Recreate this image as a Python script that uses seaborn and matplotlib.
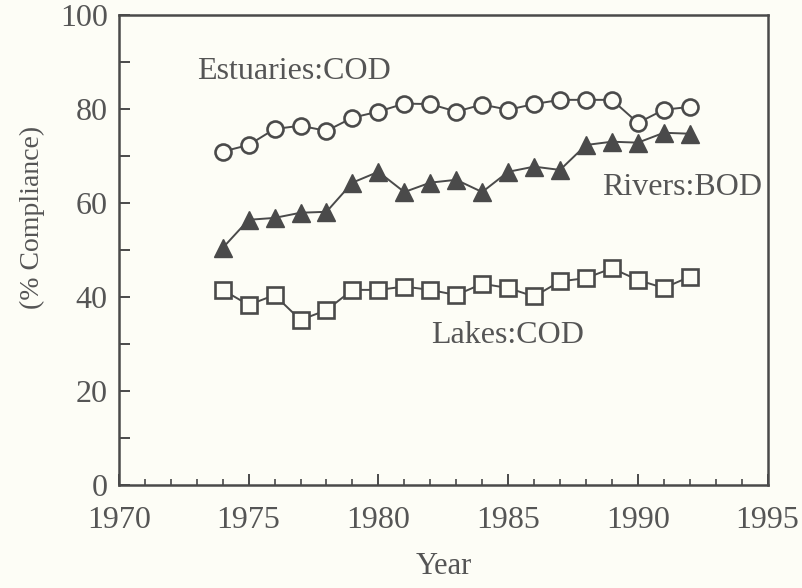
import numpy as np
import pandas as pd
import matplotlib
matplotlib.use("Agg")
import matplotlib.pyplot as plt
from matplotlib.ticker import MultipleLocator
import seaborn as sns

# data
years = list(range(1974, 1993))
estuaries_cod = [70.9, 72.3, 75.7, 76.4, 75.3, 78.1, 79.4, 81.1, 81.0, 79.4,
                 80.9, 79.8, 81.0, 81.9, 81.9, 81.9, 77.0, 79.8, 80.4]
rivers_bod = [50.4, 56.4, 56.8, 57.9, 58.1, 64.3, 66.6, 62.3, 64.3, 64.9,
              62.3, 66.6, 67.7, 67.0, 72.3, 73.0, 72.8, 74.9, 74.7]
lakes_cod = [41.5, 38.3, 40.4, 35.1, 37.2, 41.5, 41.5, 42.2, 41.5, 40.4,
             42.8, 41.9, 40.1, 43.3, 44.0, 46.1, 43.6, 41.9, 44.3]

series_labels = ["Estuaries:COD", "Rivers:BOD", "Lakes:COD"]
label_pos = [(1973.0, 87.9), (1988.6, 63.2), (1982.05, 31.9)]

ink = "#4a4a4a"
txt = "#555555"
bg = "#fdfdf6"

sns.set_theme(style="ticks")
plt.rcParams["font.family"] = ["Liberation Serif", "DejaVu Serif"]

fig = plt.figure(figsize=(8.03, 5.88), dpi=100, facecolor=bg)
ax = fig.add_axes([0.148, 0.175, 0.808, 0.80])
ax.set_facecolor(bg)

sns.lineplot(x=years, y=lakes_cod, ax=ax, color=ink, lw=1.4, marker="s",
             markersize=12, markerfacecolor=bg, markeredgecolor=ink,
             markeredgewidth=1.9)
sns.lineplot(x=years, y=rivers_bod, ax=ax, color=ink, lw=1.4, marker="^",
             markersize=13, markerfacecolor=ink, markeredgecolor=ink,
             markeredgewidth=1.0)
sns.lineplot(x=years, y=estuaries_cod, ax=ax, color=ink, lw=1.4, marker="o",
             markersize=11.5, markerfacecolor=bg, markeredgecolor=ink,
             markeredgewidth=1.9)

for name, (lx, ly) in zip(series_labels, label_pos):
    ax.text(lx, ly, name, fontsize=23, color=txt, va="center", ha="left")

ax.set_xlim(1970, 1995)
ax.set_ylim(0, 100)
ax.xaxis.set_major_locator(MultipleLocator(5))
ax.xaxis.set_minor_locator(MultipleLocator(1))
ax.yaxis.set_major_locator(MultipleLocator(20))
ax.yaxis.set_minor_locator(MultipleLocator(10))

ax.tick_params(axis="both", which="major", direction="in", length=8,
               width=1.4, color=ink, labelsize=23, labelcolor=txt)
ax.tick_params(axis="x", which="major", pad=15)
ax.tick_params(axis="y", which="major", pad=8)
ax.tick_params(axis="x", which="minor", direction="in", length=4,
               width=1.2, color=ink)
ax.tick_params(axis="y", which="minor", direction="in", length=8,
               width=1.4, color=ink)

for sp in ax.spines.values():
    sp.set_color(ink)
    sp.set_linewidth(1.8)

ax.set_xlabel("Year", fontsize=22, color=txt, va="center")
ax.set_ylabel("(% Compliance)", fontsize=20, color=txt, va="center", ha="center")
ax.xaxis.set_label_coords(0.5, -0.174)
ax.yaxis.set_label_coords(-0.1325, 0.57)

fig.savefig("out.png", dpi=100, facecolor=bg)
